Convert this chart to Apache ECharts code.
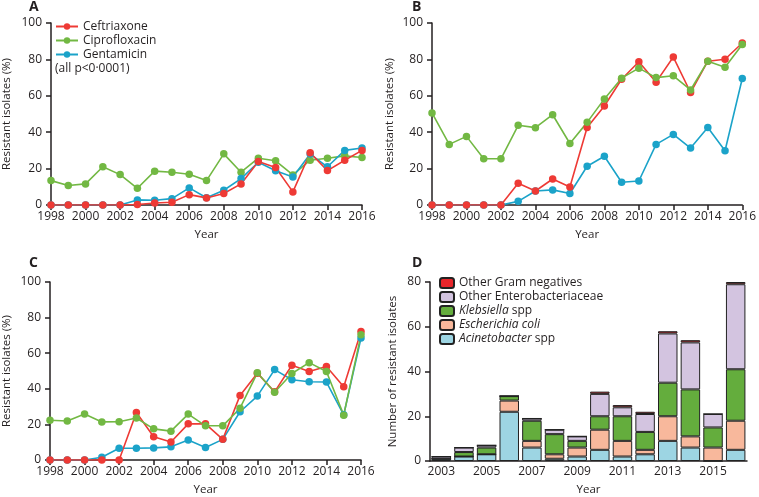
<!DOCTYPE html>
<html><head><meta charset="utf-8">
<script src="https://cdn.jsdelivr.net/npm/echarts@6/dist/echarts.min.js"></script>
<style>html,body{margin:0;padding:0;background:#fff}#c{width:759px;height:497px}</style>
</head><body><div id="c"></div>
<script>
const years = [1998,1999,2000,2001,2002,2003,2004,2005,2006,2007,2008,2009,2010,2011,2012,2013,2014,2015,2016];

// Panel A
const aCeftriaxone   = [0,0,0,0,0,0.3,1.1,1.5,5.7,3.9,6.3,11.6,23.9,20.6,7.2,28.7,18.9,24.6,30.0];
const aCiprofloxacin = [13.4,10.7,11.6,21.0,16.7,9.2,18.6,18.0,16.9,13.4,28.1,18.0,25.7,24.3,16.5,24.6,25.7,27.0,26.1];
const aGentamicin    = [0,0,0,0,0,2.8,2.6,3.5,9.4,4.0,8.1,14.5,23.5,18.8,15.4,28.0,21.0,30.0,31.3];

// Panel B
const bCeftriaxone   = [0,0,0,0,0,11.9,7.7,14.3,9.9,42.6,54.4,69.1,78.7,67.5,81.3,61.8,79.0,80.1,89.0];
const bCiprofloxacin = [50.6,33.3,37.7,25.4,25.4,43.8,42.5,49.6,33.8,45.4,58.3,69.7,75.2,70.0,71.0,63.2,79.0,75.7,88.2];
const bGentamicin    = [0,0,0,0,0,2.0,7.7,8.3,6.3,21.3,26.8,12.5,13.2,33.3,38.8,31.3,42.6,29.8,69.5];

// Panel C
const cCeftriaxone   = [0,0,0,0,0,26.7,13.1,10.1,20.3,20.3,11.6,36.3,48.8,38.3,53.2,49.7,52.5,41.1,72.2];
const cCiprofloxacin = [22.3,21.9,25.8,21.4,21.5,23.6,17.5,16.2,25.8,19.2,19.2,29.1,49.0,38.1,48.6,54.7,49.7,25.2,70.3];
const cGentamicin    = [0,0,0,1.5,6.6,6.6,6.8,7.4,11.2,7.0,11.6,27.1,35.9,50.8,45.1,44.0,43.8,25.4,68.5];

// Panel D
const dYears = ['2003','2004','2005','2006','2007','2008','2009','2010','2011','2012','2013','2014','2015','2016'];
const dAcinetobacter = [1,2,3,22,6,1,2,5,2,3,9,6,0,5];
const dEcoli         = [0,0,0,5,3,2,4,9,7,2,11,5,6,13];
const dKlebsiella    = [0,2,3,2,9,9,3,6,11,8,15,21,9,23];
const dOtherEntero   = [1,2,1,0,1,2,2,10,4,8,22,21,6,38];
const dOtherGram     = [0,0,0,0,0,0,0,1,1,1,1,1,0,1];

const FONT = '"Open Sans", "Liberation Sans", sans-serif';
const INK = '#231f20';
const RED = '#ee3a35', GREEN = '#72b843', BLUE = '#1ba3c9';

function lineSeries(name, arr, color, idx) {
  return {
    name, type: 'line', xAxisIndex: idx, yAxisIndex: idx,
    data: years.map((y, i) => [y, arr[i]]),
    symbol: 'circle', symbolSize: 7.5,
    lineStyle: { color, width: 1.6 },
    itemStyle: { color },
    emphasis: { disabled: true }
  };
}

const axisLine = { lineStyle: { color: INK, width: 1.5 } };
const axisTick = { length: 5, lineStyle: { color: INK, width: 1.5 } };
const xLabel = { color: INK, fontSize: 12, fontFamily: FONT, margin: 6 };
const yLabel = { color: INK, fontSize: 12, fontFamily: FONT, margin: 9 };
const nameStyle = { color: INK, fontSize: 11.5, fontFamily: FONT };

function xVal(gi) {
  return { type: 'value', gridIndex: gi, min: 1998, max: 2016, interval: 2,
    axisLine, axisTick,
    axisLabel: Object.assign({}, xLabel, { formatter: v => String(v) }),
    splitLine: { show: false },
    name: 'Year', nameLocation: 'middle', nameGap: 24, nameTextStyle: nameStyle };
}
function yVal(gi, gap) {
  return { type: 'value', gridIndex: gi, min: 0, max: 100, interval: 20,
    axisLine: { show: true, lineStyle: axisLine.lineStyle }, axisTick: { show: true, length: 5, lineStyle: axisTick.lineStyle },
    axisLabel: yLabel, splitLine: { show: false },
    name: 'Resistant isolates (%)', nameLocation: 'middle', nameGap: gap, nameTextStyle: nameStyle };
}

function barSeries(name, arr, color) {
  return {
    name, type: 'bar', stack: 'd', xAxisIndex: 3, yAxisIndex: 3,
    data: arr, barCategoryGap: '14%',
    itemStyle: { color, borderColor: '#222', borderWidth: 1 },
    emphasis: { disabled: true }
  };
}

const chart = echarts.init(document.getElementById('c'), null, { renderer: 'canvas' });
chart.setOption({
  animation: false,
  backgroundColor: '#fff',
  textStyle: { fontFamily: FONT },
  grid: [
    { left: 48, top: 23, width: 314, height: 182 },
    { left: 432, top: 23, width: 315, height: 182 },
    { left: 46, top: 282, width: 315, height: 181 },
    { left: 430, top: 282, width: 317, height: 182 }
  ],
  xAxis: [
    xVal(0), xVal(1), xVal(2),
    { type: 'category', gridIndex: 3, data: dYears, boundaryGap: true,
      axisLine, axisTick: { length: 5, interval: 0, lineStyle: axisTick.lineStyle },
      axisLabel: Object.assign({}, xLabel, { interval: 1, margin: 5 }),
      name: 'Year', nameLocation: 'middle', nameGap: 23, nameTextStyle: nameStyle }
  ],
  yAxis: [
    yVal(0, 38), yVal(1, 36), yVal(2, 37),
    { type: 'value', gridIndex: 3, min: 0, max: 80, interval: 20,
      axisLine: { show: true, lineStyle: axisLine.lineStyle }, axisTick: { show: true, length: 5, lineStyle: axisTick.lineStyle },
      axisLabel: yLabel, splitLine: { show: false },
      name: 'Number of resistant isolates', nameLocation: 'middle', nameGap: 31, nameTextStyle: nameStyle }
  ],
  legend: [
    { data: ['Ceftriaxone', 'Ciprofloxacin', 'Gentamicin'], orient: 'vertical', left: 50, top: 14.5,
      itemWidth: 22, itemHeight: 8, itemGap: 0,
      textStyle: { color: INK, fontSize: 12, lineHeight: 14, fontFamily: FONT } },
    { data: ['Other Gram negatives', 'Other Enterobacteriaceae', 'Klebsiella spp', 'Escherichia coli', 'Acinetobacter spp'],
      orient: 'vertical', left: 434, top: 271, itemWidth: 14, itemHeight: 10, itemGap: 0,
      formatter: function (n) {
        if (n === 'Klebsiella spp') return '{i|Klebsiella} spp';
        if (n === 'Escherichia coli') return '{i|Escherichia coli}';
        if (n === 'Acinetobacter spp') return '{i|Acinetobacter} spp';
        return n;
      },
      textStyle: { color: INK, fontSize: 12, lineHeight: 14, fontFamily: FONT,
        rich: { i: { fontStyle: 'italic', fontSize: 12, color: INK, fontFamily: FONT } } } }
  ],
  graphic: [
    { type: 'text', left: 29, top: 0, style: { text: 'A', font: 'bold 14px ' + FONT, fill: INK } },
    { type: 'text', left: 412, top: 0, style: { text: 'B', font: 'bold 14px ' + FONT, fill: INK } },
    { type: 'text', left: 29, top: 256, style: { text: 'C', font: 'bold 14px ' + FONT, fill: INK } },
    { type: 'text', left: 412, top: 256, style: { text: 'D', font: 'bold 14px ' + FONT, fill: INK } },
    { type: 'text', left: 55, top: 63, style: { text: '(all p<0·0001)', font: '12px ' + FONT, fill: INK } }
  ],
  series: [
    lineSeries('Ciprofloxacin', aCiprofloxacin, GREEN, 0),
    lineSeries('Gentamicin', aGentamicin, BLUE, 0),
    lineSeries('Ceftriaxone', aCeftriaxone, RED, 0),
    lineSeries('Gentamicin', bGentamicin, BLUE, 1),
    lineSeries('Ceftriaxone', bCeftriaxone, RED, 1),
    lineSeries('Ciprofloxacin', bCiprofloxacin, GREEN, 1),
    lineSeries('Gentamicin', cGentamicin, BLUE, 2),
    lineSeries('Ceftriaxone', cCeftriaxone, RED, 2),
    lineSeries('Ciprofloxacin', cCiprofloxacin, GREEN, 2),
    barSeries('Acinetobacter spp', dAcinetobacter, '#9dd5e3'),
    barSeries('Escherichia coli', dEcoli, '#f8b89c'),
    barSeries('Klebsiella spp', dKlebsiella, '#64ad3d'),
    barSeries('Other Enterobacteriaceae', dOtherEntero, '#d3c4e0'),
    barSeries('Other Gram negatives', dOtherGram, '#e8262b')
  ]
});
</script>
</body></html>
